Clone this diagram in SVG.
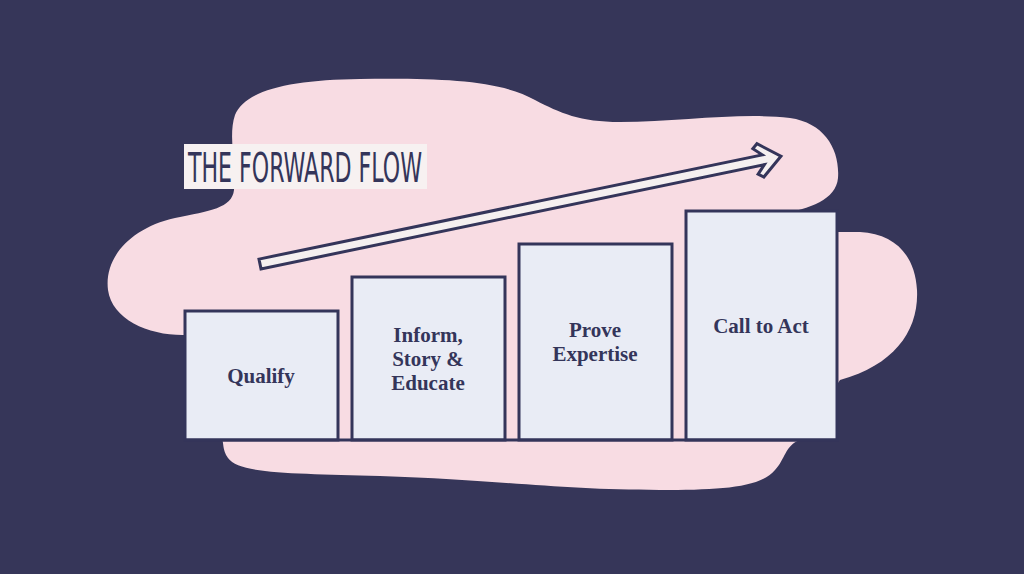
<svg xmlns="http://www.w3.org/2000/svg" width="1024" height="574" viewBox="0 0 1024 574">
  <style>
    .box { fill: #e9ecf5; stroke: #34355a; stroke-width: 3; }
    .lbl { font-family: "Liberation Serif", "DejaVu Serif", serif; font-weight: bold; font-size: 21px; fill: #34355a; text-anchor: middle; }
    .title { font-family: "DejaVu Sans Condensed", "Liberation Sans Narrow", "Liberation Sans", sans-serif; font-size: 40px; fill: #34355a; }
  </style>
  <rect x="0" y="0" width="1024" height="574" fill="#363659"/>
  <g id="blob">
    <path fill="#f8dce3" d="M 186 335
      C 150 336, 112 320, 108 290
      C 104 258, 130 228, 175 218
      C 210 211, 232 208, 234 190
      C 236 165, 228 135, 235 115
      C 245 90, 290 80, 360 79
      C 440 78, 500 80, 535 100
      C 560 113, 580 122, 620 122
      C 680 122, 740 112, 790 118
      C 825 123, 840 150, 838 178
      C 836 200, 810 208, 780 215
      L 800 232 L 860 232
      C 895 234, 915 255, 917 290
      C 919 330, 895 365, 840 380
      L 800 440
      C 785 445, 785 460, 775 470
      C 760 488, 720 490, 660 490
      C 560 490, 500 480, 380 476
      C 300 473, 240 475, 228 458
      C 222 450, 224 442, 222 440
      L 190 440 Z"/>
  </g>
  <g id="title">
    <rect x="184" y="144" width="243" height="45" fill="#f7f1f1"/>
    <text class="title" x="188" y="182" textLength="234" lengthAdjust="spacingAndGlyphs">THE FORWARD FLOW</text>
  </g>
  <g id="connectors">
    <polygon transform="translate(260,264) rotate(-11.7)" fill="#f5f0f0" stroke="#34355a" stroke-width="3" stroke-linejoin="miter"
      points="0,-5 514,-5 506,-13 511,-17 532,0 511,17 506,13 514,5 0,5"/>
  </g>
  <g id="node-qualify">
    <rect class="box" x="185" y="311" width="153" height="129"/>
    <text class="lbl" x="261" y="383">Qualify</text>
  </g>
  <g id="node-inform">
    <rect class="box" x="352" y="277" width="153" height="163"/>
    <text class="lbl" x="428" y="342">Inform,</text>
    <text class="lbl" x="428" y="366">Story &amp;</text>
    <text class="lbl" x="428" y="390">Educate</text>
  </g>
  <g id="node-prove">
    <rect class="box" x="519" y="244" width="153" height="196"/>
    <text class="lbl" x="595" y="337">Prove</text>
    <text class="lbl" x="595" y="361">Expertise</text>
  </g>
  <g id="node-call">
    <rect class="box" x="686" y="211" width="151" height="229"/>
    <text class="lbl" x="761" y="333">Call to Act</text>
  </g>
  <g id="baseline">
    <line x1="184" y1="440" x2="839" y2="440" stroke="#34355a" stroke-width="3"/>
  </g>
</svg>
